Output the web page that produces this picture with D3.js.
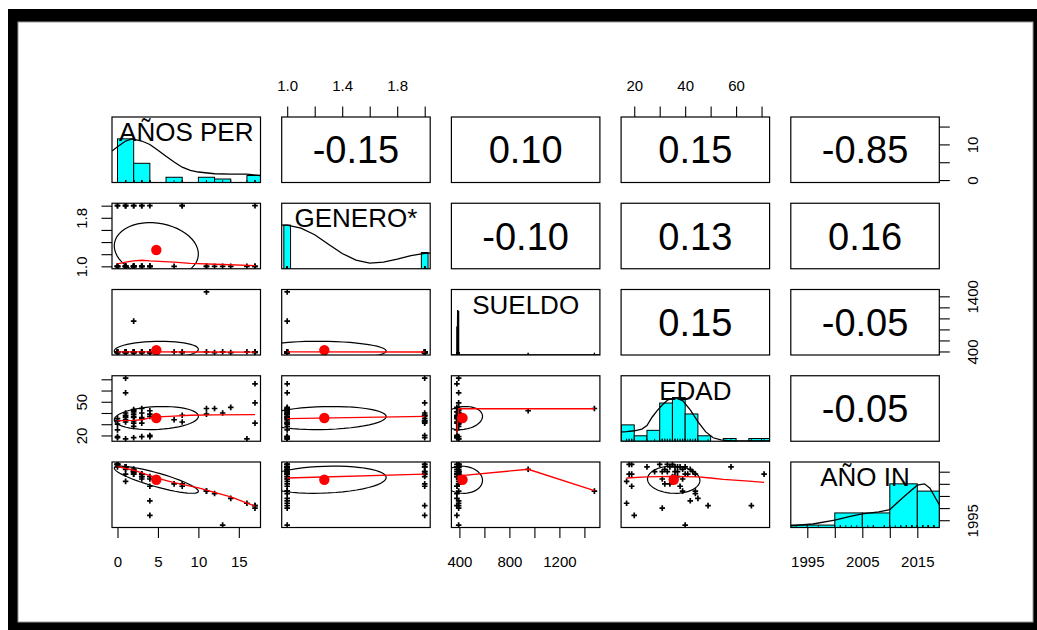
<!DOCTYPE html>
<html>
<head>
<meta charset="utf-8">
<script src="https://cdn.jsdelivr.net/npm/d3@7"></script>
<style>body{margin:0;background:#fff}</style>
</head>
<body>
<svg width="1037" height="630"></svg>
<script>
// variables (one value per person)
var varNames = ["AÑOS PER", "GENERO*", "SUELDO", "EDAD", "AÑO IN"];
var aniosPer = [0,0,0,0,0,0,1,1,1,1,1,1,1,1,1,2,2,2,2,2,2,2,2,2,2,3,3,3,3,3,3,4,4,4,4,4,7,8,8,11,11,12,13,14,16,17,17,17];
var genero   = [1,2,1,1,2,1,1,2,2,1,1,1,2,1,1,1,1,2,1,1,1,2,1,1,1,1,2,1,1,1,2,1,1,2,1,1,1,2,2,1,1,1,1,1,1,1,2,1];
var sueldo   = [394,380,394,380,394,394,380,394,394,380,394,394,380,394,394,950,394,380,394,394,380,394,394,380,394,394,380,394,380,394,394,380,394,380,394,380,394,380,394,1480,394,380,394,380,394,380,394,394];
var edad     = [30,18,35,25,33,19,36,71,38,32,40,58,37,17,34,42,36,31,39,43,18,33,37,41,28,44,35,36,19,31,40,37,42,20,39,19,34,38,32,44,39,44,40,45,17,66,49,31];
var anioIn   = [2018,2018,2018,2017,2018,2018,2017,2014,2017,2016,2017,2017,2017,2011,2017,2016,2015,2015,2016,2015,2014,2015,2015,2014,2015,2014,2013,2013,2014,2012,2014,2013,2003,1997,2012,2009,2010,2009,2010,2007,2007,2006,1993,2004,2002,2001,2001,2000];

// summary values
var varMeans = [4.8, 1.27, 425, 35.5, 2011.7];
var varSds   = [5.2, 0.45, 160, 10.3, 5.6];
var corUpper = [[-0.15, 0.10, 0.15, -0.85], [-0.10, 0.13, 0.16], [0.15, -0.05], [-0.05]];

// histograms on the diagonal
var aniosHistBreaks = [0,2,4,6,8,10,12,14,16,18];
var aniosHistCounts = [25,11,0,3,0,3,2,0,4];
var generoHistValues = [1,2];
var generoHistCounts = [35,13];
var sueldoHistValues = [380,394,950,1480];
var sueldoHistCounts = [18,28,1,1];
var edadHistBreaks = [15,20,25,30,35,40,45,50,55,60,65,70,75];
var edadHistCounts = [6,2,4,14,16,10,2,0,1,0,1,1];
var anioHistBreaks = [1990,1995,2000,2005,2010,2015,2020];
var anioHistCounts = [1,1,6,6,18,15];

// density curves (scaled to max 1)
var densAnios = [[-0.68,0.72],[0,0.82],[1,0.95],[1.8,1.0],[3,0.95],[4,0.87],[5,0.74],[6,0.6],[7,0.47],[8,0.35],[9,0.28],[10,0.24],[12,0.2],[14,0.19],[16,0.19],[17.68,0.16]];
var densGenero = [[0.96,1.0],[1.0,1.0],[1.1,0.93],[1.2,0.78],[1.3,0.56],[1.4,0.35],[1.5,0.2],[1.6,0.13],[1.7,0.15],[1.8,0.22],[1.9,0.3],[2.0,0.35],[2.04,0.36]];
var densSueldo = [[336,0],[383,0],[386,1.03],[389,0],[1524,0]];
var densEdad = [[14.84,0.21],[17,0.22],[20,0.24],[23,0.28],[25,0.36],[27,0.55],[29,0.7],[31,0.83],[33,0.94],[36,1.0],[39,0.93],[42,0.72],[45,0.45],[48,0.22],[51,0.08],[54,0.03],[58,0.01],[73.16,0.01]];
var densAnio = [[1992,0.04],[1996,0.08],[2000,0.17],[2003,0.26],[2005,0.31],[2008,0.36],[2010,0.41],[2012.5,0.7],[2015,0.97],[2016.3,1.0],[2017.3,0.9],[2019,0.52]];

// lowess lines in the lower panels
var smoothGenAnios  = [[0,1.04],[1,1.07],[2,1.09],[3,1.1],[4,1.09],[7,1.07],[9,1.05],[13,1.03],[17,1.01]];
var smoothSueAnios  = [[0,392],[4,394],[11,390],[17,388]];
var smoothSueGen    = [[1,392],[2,390]];
var smoothEdadAnios = [[0,33.2],[2,33.4],[3,34],[4,35.6],[5,36.5],[7,37.3],[9,38],[12,38.3],[17,38.5]];
var smoothEdadGen   = [[1,34.9],[2,37]];
var smoothEdadSue   = [[380,22],[394,43.8],[950,43.8],[1480,43.8]];
var smoothAnioAnios = [[0,2017.1],[2,2015.6],[4,2013.4],[5,2012.3],[7,2010.5],[10,2008.3],[14,2004.6],[17,2000.8]];
var smoothAnioGen   = [[1,2012.4],[2,2014]];
var smoothAnioSue   = [[380,2012.5],[394,2013.3],[950,2016],[1480,2007.2]];
var smoothAnioEdad  = [[17,2012.4],[25,2012.9],[35,2013.1],[45,2012.9],[50,2012.4],[55,2011.8],[65,2011.1],[71,2010.6]];

// axis ticks and which ticks get a label
var aniosTicks = [0,5,10,15], aniosLabBottom = [0,5,10,15], aniosLabRight = [0,10];
var generoTicks = [1.0,1.2,1.4,1.6,1.8,2.0], generoLabTop = [1.0,1.4,1.8], generoLabLeft = [1.0,1.8];
var sueldoTicks = [400,600,800,1000,1200,1400], sueldoLabBottom = [400,800,1200], sueldoLabRight = [400,1400];
var edadTicks = [20,30,40,50,60,70], edadLabTop = [20,40,60], edadLabLeft = [20,50];
var anioTicks = [1995,2000,2005,2010,2015], anioLabBottom = [1995,2005,2015], anioLabRight = [1995];

(function() {
var svg = d3.select("svg");
var font = "'Liberation Sans', Arial, sans-serif";

// screenshot frame
svg.append("rect").attr("x", 8).attr("y", 9).attr("width", 1029).attr("height", 621).attr("fill", "#000");
svg.append("rect").attr("x", 18).attr("y", 22).attr("width", 1015).attr("height", 600)
    .attr("fill", "#fff").attr("stroke", "#9a9a9a").attr("stroke-width", 1);

var cols = [aniosPer, genero, sueldo, edad, anioIn];
var diagHist = [
    {breaks: aniosHistBreaks, counts: aniosHistCounts, dens: densAnios},
    {values: generoHistValues, counts: generoHistCounts, dens: densGenero},
    {values: sueldoHistValues, counts: sueldoHistCounts, dens: densSueldo},
    {breaks: edadHistBreaks, counts: edadHistCounts, dens: densEdad},
    {breaks: anioHistBreaks, counts: anioHistCounts, dens: densAnio}
];
var smoothers = {
    "10": smoothGenAnios, "20": smoothSueAnios, "21": smoothSueGen,
    "30": smoothEdadAnios, "31": smoothEdadGen, "32": smoothEdadSue,
    "40": smoothAnioAnios, "41": smoothAnioGen, "42": smoothAnioSue, "43": smoothAnioEdad
};

var x0 = 112, y0 = 117, stepX = 169.7, stepY = 86.25, pw = 148.5, ph = 65.5;

var xScale = [], yScale = [];
cols.forEach(function(v, k) {
    var ext = d3.extent(v), pad = (ext[1] - ext[0]) * 0.04;
    var dom = [ext[0] - pad, ext[1] + pad];
    var pl = x0 + k * stepX, pt = y0 + k * stepY;
    xScale.push(d3.scaleLinear().domain(dom).range([pl, pl + pw]));
    yScale.push(d3.scaleLinear().domain(dom).range([pt + ph, pt]));
});

function getCor(a, b) {
    var i = Math.min(a, b), j = Math.max(a, b);
    return corUpper[i][j - i - 1];
}

function drawDiag(g, k, pt) {
    var x = xScale[k];
    var hy = d3.scaleLinear().domain([0, 1.5]).range([pt + ph, pt]);
    var h = diagHist[k];
    var maxC = d3.max(h.counts);
    var bars;
    if (h.breaks) {
        bars = h.counts.map(function(c, b) { return {x1: h.breaks[b], x2: h.breaks[b + 1], y: c / maxC}; });
    } else {
        var diffs = d3.pairs(h.values).map(function(p) { return p[1] - p[0]; });
        var ib = d3.min(diffs) * (h.values.length - 1) / 41;
        bars = h.counts.map(function(c, b) { return {x1: h.values[b] - ib, x2: h.values[b] + ib, y: c / maxC}; });
    }
    g.selectAll("rect.bar").data(bars).enter().append("rect")
        .attr("x", function(d) { return x(d.x1); })
        .attr("width", function(d) { return x(d.x2) - x(d.x1); })
        .attr("y", function(d) { return hy(d.y); })
        .attr("height", function(d) { return hy(0) - hy(d.y); })
        .attr("fill", "#00ffff").attr("stroke", "#000").attr("stroke-width", 1);
    g.append("path").datum(h.dens)
        .attr("d", d3.line().x(function(d) { return x(d[0]); }).y(function(d) { return hy(d[1]); }))
        .attr("fill", "none").attr("stroke", "#000").attr("stroke-width", 1.3);
    g.selectAll("line.rug").data(cols[k]).enter().append("line")
        .attr("x1", function(d) { return x(d); }).attr("x2", function(d) { return x(d); })
        .attr("y1", pt + ph).attr("y2", pt + ph - 2.5)
        .attr("stroke", "#000").attr("stroke-width", 0.8);
}

function drawScatter(g, i, j) {
    var x = xScale[j], y = yScale[i];
    var idx = d3.range(cols[i].length);
    g.selectAll("path.pt").data(idx).enter().append("path")
        .attr("d", "M-2.8,0H2.8M0,-2.8V2.8")
        .attr("transform", function(n) { return "translate(" + x(cols[j][n]) + "," + y(cols[i][n]) + ")"; })
        .attr("stroke", "#000").attr("stroke-width", 1.7);
    // correlation ellipse (psych draw.ellipse)
    var r = getCor(i, j);
    var t = (r > 0 ? 1 : -1) / Math.SQRT2, a = Math.sqrt(1 + r), b = Math.sqrt(1 - r);
    var ell = d3.range(52).map(function(s) {
        var ang = s * 2 * Math.PI / 51, c = Math.cos(ang), sn = Math.sin(ang);
        return [varMeans[j] + (c * a * t - sn * b * t) * varSds[j],
                varMeans[i] + (c * a * t + sn * b * t) * varSds[i]];
    });
    g.append("circle").attr("cx", x(varMeans[j])).attr("cy", y(varMeans[i])).attr("r", 5.2).attr("fill", "#ff0000");
    g.append("path").datum(ell)
        .attr("d", d3.line().x(function(d) { return x(d[0]); }).y(function(d) { return y(d[1]); }))
        .attr("fill", "none").attr("stroke", "#000").attr("stroke-width", 1.2);
    g.append("path").datum(smoothers["" + i + j])
        .attr("d", d3.line().x(function(d) { return x(d[0]); }).y(function(d) { return y(d[1]); }))
        .attr("fill", "none").attr("stroke", "#ff0000").attr("stroke-width", 1.3);
}

for (var i = 0; i < 5; i++) {
    for (var j = 0; j < 5; j++) {
        var pl = x0 + j * stepX, pt = y0 + i * stepY;
        var id = "clip" + i + j;
        svg.append("clipPath").attr("id", id).append("rect")
            .attr("x", pl).attr("y", pt).attr("width", pw).attr("height", ph);
        var g = svg.append("g");
        var inner = g.append("g").attr("clip-path", "url(#" + id + ")");
        if (i === j) drawDiag(inner, i, pt);
        else if (i > j) drawScatter(inner, i, j);
        else {
            g.append("text").attr("x", pl + pw / 2).attr("y", pt + ph / 2 + 13.5)
                .attr("text-anchor", "middle").attr("font-family", font).attr("font-size", 38)
                .text(getCor(i, j).toFixed(2));
        }
        g.append("rect").attr("x", pl).attr("y", pt).attr("width", pw).attr("height", ph)
            .attr("fill", "none").attr("stroke", "#000").attr("stroke-width", 1.2);
        if (i === j) {
            g.append("text").attr("x", pl + pw / 2).attr("y", pt + 24)
                .attr("text-anchor", "middle").attr("font-family", font).attr("font-size", 26)
                .text(varNames[i]);
        }
    }
}

// axes, R style
function fmtFor(labels, digits) {
    return function(d) { return labels.indexOf(d) >= 0 ? d.toFixed(digits) : ""; };
}
function drawAxis(gen, scale, ticks, labels, digits, tx, ty, side) {
    var ax = svg.append("g").attr("transform", "translate(" + tx + "," + ty + ")")
        .call(gen(scale).tickValues(ticks).tickSize(10.5).tickSizeOuter(0).tickFormat(fmtFor(labels, digits)));
    ax.select(".domain").remove();
    ax.selectAll("line").attr("stroke", "#000").attr("stroke-width", 1.1);
    var txt = ax.selectAll("text").attr("font-family", font).attr("font-size", 15).attr("fill", "#000").attr("dy", null);
    if (side === "top") txt.attr("y", -26);
    if (side === "bottom") txt.attr("y", 39);
    if (side === "left") txt.attr("x", 0).attr("y", -25).attr("text-anchor", "middle").attr("transform", "rotate(-90)");
    if (side === "right") txt.attr("x", 0).attr("y", 38.5).attr("text-anchor", "middle").attr("transform", "rotate(-90)");
}
var topY = y0, bottomY = y0 + 4 * stepY + ph, leftX = x0, rightX = x0 + 4 * stepX + pw;
drawAxis(d3.axisTop, xScale[1], generoTicks, generoLabTop, 1, 0, topY, "top");
drawAxis(d3.axisTop, xScale[3], edadTicks, edadLabTop, 0, 0, topY, "top");
drawAxis(d3.axisBottom, xScale[0], aniosTicks, aniosLabBottom, 0, 0, bottomY, "bottom");
drawAxis(d3.axisBottom, xScale[2], sueldoTicks, sueldoLabBottom, 0, 0, bottomY, "bottom");
drawAxis(d3.axisBottom, xScale[4], anioTicks, anioLabBottom, 0, 0, bottomY, "bottom");
drawAxis(d3.axisLeft, yScale[1], generoTicks, generoLabLeft, 1, leftX, 0, "left");
drawAxis(d3.axisLeft, yScale[3], edadTicks, edadLabLeft, 0, leftX, 0, "left");
drawAxis(d3.axisRight, yScale[0], aniosTicks, aniosLabRight, 0, rightX, 0, "right");
drawAxis(d3.axisRight, yScale[2], sueldoTicks, sueldoLabRight, 0, rightX, 0, "right");
drawAxis(d3.axisRight, yScale[4], anioTicks, anioLabRight, 0, rightX, 0, "right");
})();
</script>
</body>
</html>
